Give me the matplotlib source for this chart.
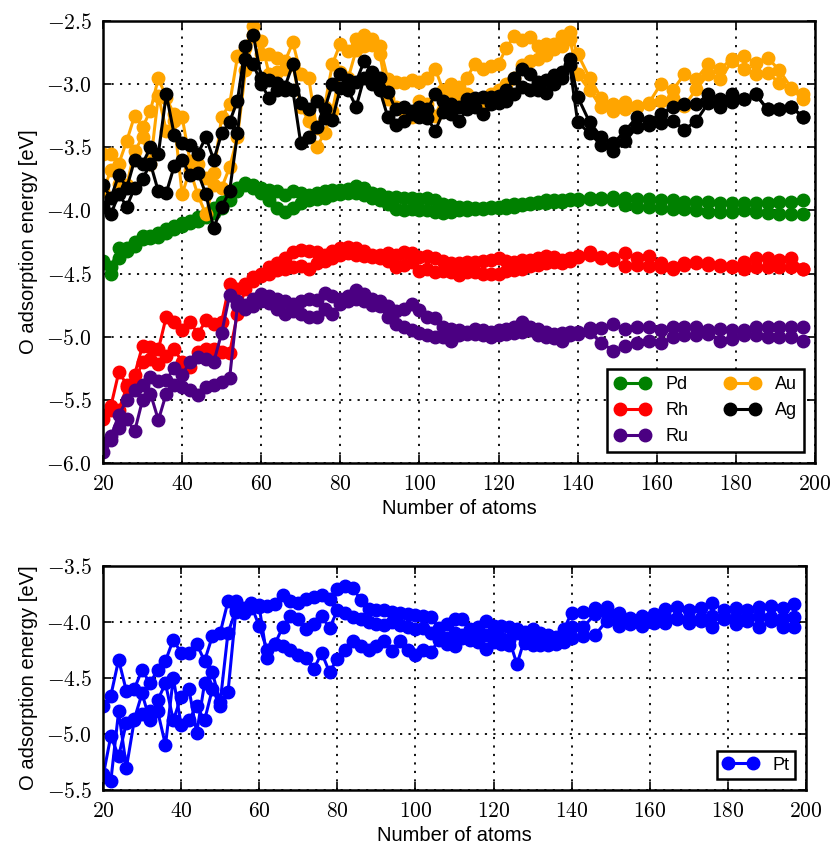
import matplotlib
matplotlib.use('Agg')
import matplotlib.pyplot as plt
from matplotlib.ticker import FuncFormatter, MultipleLocator

plt.rcParams['font.family'] = ['Liberation Sans', 'DejaVu Sans']
plt.rcParams['mathtext.fontset'] = 'cm'
plt.rcParams['font.size'] = 15

# cluster sizes: every 2nd size up to 138, then every 3rd
n_atoms = list(range(20, 140, 2)) + list(range(140, 200, 3))

pd_a = [-4.40, -4.45, -4.30, -4.32, -4.25, -4.20, -4.22, -4.18, -4.15, -4.12,
        -4.10, -4.08, -4.05, -4.03, -3.98, -3.93, -3.88, -3.82, -3.78, -3.80,
        -3.82, -3.84, -3.85, -3.88, -3.85, -3.86, -3.88, -3.86, -3.85, -3.84,
        -3.84, -3.83, -3.81, -3.82, -3.86, -3.87, -3.89, -3.89, -3.90, -3.90,
        -3.91, -3.90, -3.92, -3.95, -3.96, -3.97, -3.97, -3.98, -3.98, -3.97,
        -3.97, -3.96, -3.95, -3.95, -3.94, -3.93, -3.92, -3.92, -3.92, -3.91,
        -3.91, -3.90, -3.90, -3.89, -3.90, -3.91, -3.91, -3.92, -3.92, -3.93,
        -3.93, -3.93, -3.94, -3.94, -3.94, -3.94, -3.94, -3.93, -3.93, -3.92]
pd_b = [-4.42, -4.50, -4.38, -4.30, -4.28, -4.23, -4.20, -4.21, -4.18, -4.15,
        -4.12, -4.10, -4.08, -4.05, -4.02, -3.98, -3.92, -3.85, -3.80, -3.82,
        -3.86, -3.92, -3.98, -4.01, -3.98, -3.94, -3.92, -3.91, -3.90, -3.88,
        -3.87, -3.86, -3.86, -3.88, -3.90, -3.92, -3.95, -3.99, -4.00, -3.99,
        -4.00, -4.00, -4.01, -4.02, -4.01, -4.00, -4.00, -3.99, -3.99, -3.98,
        -3.98, -3.98, -3.97, -3.96, -3.95, -3.94, -3.94, -3.93, -3.93, -3.92,
        -3.92, -3.91, -3.91, -3.92, -3.96, -3.97, -3.97, -3.98, -3.99, -3.99,
        -4.00, -4.01, -4.01, -4.01, -4.00, -4.01, -4.02, -4.03, -4.03, -4.03]

rh_a = [-5.62, -5.55, -5.28, -5.38, -5.30, -5.07, -5.08, -5.10, -4.84, -4.88,
        -4.95, -4.88, -4.98, -4.87, -4.90, -4.88, -4.58, -4.62, -4.58, -4.53,
        -4.50, -4.45, -4.42, -4.38, -4.33, -4.31, -4.32, -4.33, -4.35, -4.32,
        -4.30, -4.29, -4.30, -4.32, -4.35, -4.35, -4.34, -4.35, -4.33, -4.34,
        -4.37, -4.36, -4.38, -4.40, -4.42, -4.42, -4.41, -4.41, -4.40, -4.39,
        -4.38, -4.40, -4.41, -4.39, -4.39, -4.38, -4.36, -4.37, -4.39, -4.38,
        -4.36, -4.33, -4.37, -4.38, -4.34, -4.38, -4.36, -4.42, -4.45, -4.42,
        -4.41, -4.42, -4.43, -4.44, -4.41, -4.38, -4.38, -4.39, -4.38, -4.46]
rh_b = [-5.65, -5.58, -5.58, -5.40, -5.36, -5.20, -5.18, -5.22, -5.15, -5.10,
        -5.20, -5.24, -5.12, -5.10, -5.10, -5.12, -5.13, -4.82, -4.62, -4.56,
        -4.52, -4.50, -4.47, -4.46, -4.45, -4.44, -4.46, -4.42, -4.40, -4.38,
        -4.35, -4.34, -4.35, -4.36, -4.37, -4.38, -4.40, -4.45, -4.43, -4.41,
        -4.48, -4.46, -4.49, -4.48, -4.49, -4.51, -4.49, -4.49, -4.50, -4.50,
        -4.50, -4.48, -4.47, -4.46, -4.44, -4.43, -4.42, -4.41, -4.42, -4.40,
        -4.37, -4.35, -4.38, -4.39, -4.44, -4.43, -4.44, -4.45, -4.46, -4.43,
        -4.42, -4.43, -4.44, -4.45, -4.46, -4.45, -4.45, -4.45, -4.45, -4.46]

ru_a = [-5.84, -5.79, -5.62, -5.50, -5.42, -5.38, -5.32, -5.35, -5.34, -5.25,
        -5.30, -5.20, -5.16, -5.18, -5.20, -4.97, -4.67, -4.72, -4.75, -4.70,
        -4.66, -4.68, -4.70, -4.72, -4.74, -4.72, -4.70, -4.71, -4.65, -4.68,
        -4.70, -4.68, -4.63, -4.66, -4.70, -4.72, -4.76, -4.80, -4.78, -4.74,
        -4.79, -4.84, -4.85, -4.92, -4.94, -4.95, -4.96, -4.94, -4.95, -4.96,
        -4.95, -4.94, -4.92, -4.88, -4.92, -4.94, -4.96, -4.98, -4.97, -4.96,
        -4.96, -4.93, -4.93, -4.90, -4.94, -4.92, -4.92, -4.95, -4.92, -4.92,
        -4.92, -4.95, -4.94, -4.95, -4.95, -4.92, -4.92, -4.92, -4.92, -4.92]
ru_b = [-5.91, -5.82, -5.72, -5.65, -5.75, -5.50, -5.45, -5.66, -5.45, -5.38,
        -5.40, -5.42, -5.46, -5.40, -5.38, -5.36, -5.33, -4.75, -4.78, -4.76,
        -4.72, -4.73, -4.78, -4.82, -4.80, -4.82, -4.84, -4.84, -4.78, -4.82,
        -4.74, -4.72, -4.70, -4.72, -4.75, -4.76, -4.84, -4.90, -4.92, -4.95,
        -4.97, -4.99, -5.00, -5.00, -5.03, -4.99, -4.98, -4.98, -4.99, -5.00,
        -4.99, -4.98, -4.97, -4.96, -4.95, -4.99, -5.00, -5.01, -5.03, -4.99,
        -4.98, -4.96, -5.05, -5.11, -5.07, -5.05, -5.03, -5.05, -5.00, -4.99,
        -4.99, -4.98, -5.03, -5.02, -4.99, -4.99, -5.00, -5.00, -5.00, -5.03]

au_a = [-3.55, -3.55, -3.63, -3.45, -3.25, -3.34, -3.21, -2.95, -3.11, -3.24,
        -3.26, -3.61, -3.63, -3.74, -3.70, -3.26, -3.16, -2.78, -2.71, -2.54,
        -2.76, -2.76, -2.79, -2.82, -2.67, -2.92, -2.95, -3.35, -3.18, -2.84,
        -2.68, -2.74, -2.64, -2.61, -2.64, -2.70, -2.96, -2.98, -2.99, -2.97,
        -2.98, -2.95, -2.88, -3.05, -3.00, -3.02, -2.95, -2.84, -2.88, -2.86,
        -2.84, -2.71, -2.62, -2.65, -2.63, -2.70, -2.68, -2.68, -2.62, -2.59,
        -2.76, -2.95, -3.11, -3.16, -3.14, -3.17, -3.15, -3.00, -3.05, -2.92,
        -2.96, -2.84, -2.88, -2.80, -2.78, -2.83, -2.79, -2.89, -3.03, -3.12]
au_b = [-3.85, -3.68, -3.79, -3.80, -3.53, -3.42, -3.63, -3.09, -3.37, -3.29,
        -3.87, -3.68, -3.88, -4.03, -3.80, -3.82, -3.66, -3.42, -2.89, -2.61,
        -2.66, -2.92, -2.90, -2.88, -2.84, -3.18, -3.29, -3.50, -3.39, -3.21,
        -2.90, -2.95, -2.73, -2.70, -2.69, -2.76, -3.12, -3.18, -3.21, -3.26,
        -3.13, -3.16, -3.25, -3.10, -3.08, -3.10, -3.08, -3.16, -3.18, -3.08,
        -3.05, -3.00, -2.95, -2.85, -2.82, -2.80, -2.77, -2.72, -2.70, -2.64,
        -2.92, -3.05, -3.18, -3.21, -3.20, -3.18, -3.16, -3.13, -3.11, -3.17,
        -3.04, -2.92, -2.96, -2.82, -2.88, -2.92, -2.91, -2.99, -3.04, -3.08]

ag_a = [-3.80, -3.90, -3.72, -3.82, -3.60, -3.63, -3.50, -3.55, -3.08, -3.40,
        -3.47, -3.48, -3.55, -3.42, -3.60, -3.39, -3.30, -3.13, -2.70, -2.61,
        -2.95, -2.97, -2.99, -3.02, -2.84, -3.15, -3.20, -3.13, -3.20, -3.00,
        -2.92, -2.97, -2.98, -2.82, -2.90, -2.95, -3.06, -3.20, -3.18, -3.21,
        -3.18, -3.20, -3.08, -3.13, -3.16, -3.18, -3.12, -3.11, -3.10, -3.10,
        -3.09, -3.05, -2.95, -2.88, -2.92, -2.98, -2.97, -2.93, -2.90, -2.80,
        -3.10, -3.30, -3.42, -3.47, -3.37, -3.26, -3.29, -3.24, -3.18, -3.16,
        -3.16, -3.08, -3.12, -3.08, -3.12, -3.08, -3.20, -3.20, -3.18, -3.26]
ag_b = [-3.97, -4.03, -3.87, -3.97, -3.82, -3.75, -3.63, -3.85, -3.86, -3.65,
        -3.60, -3.72, -3.70, -3.87, -4.14, -3.97, -3.85, -3.39, -2.80, -2.84,
        -3.00, -3.11, -3.05, -3.05, -3.05, -3.47, -3.42, -3.34, -3.27, -3.28,
        -3.03, -3.05, -3.18, -2.95, -3.00, -3.05, -3.26, -3.32, -3.29, -3.24,
        -3.26, -3.27, -3.37, -3.22, -3.24, -3.29, -3.20, -3.18, -3.24, -3.16,
        -3.15, -3.13, -3.08, -3.02, -3.05, -3.05, -3.07, -3.00, -2.95, -2.85,
        -3.30, -3.39, -3.48, -3.53, -3.45, -3.34, -3.32, -3.31, -3.29, -3.36,
        -3.29, -3.15, -3.18, -3.14, -3.12, -3.08, -3.20, -3.20, -3.18, -3.26]

pt_a = [-4.75, -4.66, -4.34, -4.62, -4.60, -4.43, -4.55, -4.43, -4.35, -4.16,
        -4.28, -4.28, -4.20, -4.35, -4.13, -4.10, -3.82, -3.82, -3.90, -3.83,
        -3.85, -3.86, -3.84, -3.76, -3.82, -3.83, -3.80, -3.78, -3.76, -3.80,
        -3.71, -3.68, -3.70, -3.81, -3.89, -3.90, -3.90, -3.91, -3.92, -3.93,
        -3.94, -3.95, -3.96, -4.06, -4.02, -3.98, -3.98, -4.07, -4.05, -3.99,
        -4.04, -4.04, -4.05, -4.07, -4.09, -4.07, -4.10, -4.12, -4.14, -4.07,
        -3.92, -3.91, -3.88, -3.87, -3.92, -3.97, -3.95, -3.93, -3.89, -3.87,
        -3.90, -3.88, -3.83, -3.90, -3.88, -3.90, -3.87, -3.86, -3.88, -3.84]
pt_b = [-5.38, -5.02, -5.20, -4.90, -4.87, -4.64, -4.88, -4.70, -4.55, -4.88,
        -4.67, -4.60, -4.99, -4.55, -4.45, -4.72, -4.10, -3.90, -3.88, -3.86,
        -4.04, -4.25, -4.20, -4.05, -3.95, -3.98, -4.07, -4.02, -3.95, -4.06,
        -3.90, -3.92, -3.96, -3.98, -4.00, -4.02, -4.03, -4.00, -4.03, -4.05,
        -4.07, -4.06, -4.10, -4.13, -4.15, -4.10, -4.12, -4.14, -4.15, -4.12,
        -4.14, -4.15, -4.16, -4.38, -4.15, -4.16, -4.18, -4.19, -4.19, -4.17,
        -4.05, -4.05, -3.93, -3.92, -3.97, -3.99, -3.99, -3.99, -3.96, -3.97,
        -3.98, -3.97, -3.95, -3.96, -3.96, -3.97, -3.95, -3.96, -3.97, -3.96]
pt_c = [-5.36, -5.42, -4.80, -5.30, -4.88, -4.82, -4.80, -4.80, -5.10, -4.50,
        -4.92, -4.88, -4.75, -4.88, -4.60, -4.75, -4.63, -3.91, -3.92, -3.88,
        -3.87, -4.32, -4.20, -4.22, -4.25, -4.30, -4.32, -4.42, -4.28, -4.45,
        -4.33, -4.25, -4.17, -4.22, -4.25, -4.22, -4.17, -4.26, -4.17, -4.25,
        -4.30, -4.25, -4.27, -4.16, -4.20, -4.22, -4.15, -4.16, -4.18, -4.24,
        -4.18, -4.20, -4.21, -4.10, -4.19, -4.21, -4.21, -4.21, -4.20, -4.18,
        -4.15, -4.13, -4.12, -3.99, -4.04, -4.02, -4.04, -4.01, -4.01, -3.98,
        -4.01, -3.99, -4.05, -3.98, -4.02, -3.99, -4.05, -3.99, -4.05, -4.05]


def draw_metal(ax, branches, color, label):
    for i, vals in enumerate(branches):
        ax.plot(n_atoms, vals, '-o', color=color, mec=color, ms=9, lw=2.2,
                label=label if i == 0 else None)


def style_axes(ax, ylim, ystep):
    ax.set_xlim(20, 200)
    ax.set_ylim(*ylim)
    ax.xaxis.set_major_locator(MultipleLocator(20))
    ax.yaxis.set_major_locator(MultipleLocator(ystep))
    ax.xaxis.set_major_formatter(FuncFormatter(lambda v, p: r'$%d$' % v))
    ax.yaxis.set_major_formatter(FuncFormatter(lambda v, p: r'$%.1f$' % v))
    ax.tick_params(direction='in', top=True, right=True, length=6, width=1.2,
                   pad=8, labelsize=15.5)
    ax.grid(True, color='k', linestyle=(0, (1.2, 3.5)), linewidth=1.3)
    for s in ax.spines.values():
        s.set_linewidth(1.8)
    ax.set_xlabel('Number of atoms', fontsize=14.5, labelpad=3)
    ax.set_ylabel('O adsorption energy [eV]', fontsize=14.5, labelpad=6)


fig = plt.figure(figsize=(8.32, 8.49), dpi=100)
ax1 = fig.add_axes([103 / 832, 1 - 463 / 849, 712 / 832, 442 / 849])
ax2 = fig.add_axes([103 / 832, 1 - 790 / 849, 703 / 832, 224.5 / 849])

draw_metal(ax1, [pd_a, pd_b], 'green', 'Pd')
draw_metal(ax1, [rh_a, rh_b], 'red', 'Rh')
draw_metal(ax1, [ru_a, ru_b], 'indigo', 'Ru')
draw_metal(ax1, [au_a, au_b], 'orange', 'Au')
draw_metal(ax1, [ag_a, ag_b], 'black', 'Ag')
style_axes(ax1, (-6.0, -2.5), 0.5)
leg1 = ax1.legend(loc='lower right', ncol=2, numpoints=2, fontsize=13,
                  fancybox=False, edgecolor='k', framealpha=1,
                  borderaxespad=0.6, columnspacing=2.0)
leg1.get_frame().set_linewidth(1.8)

draw_metal(ax2, [pt_a, pt_b, pt_c], 'blue', 'Pt')
style_axes(ax2, (-5.5, -3.5), 0.5)
leg2 = ax2.legend(loc='lower right', numpoints=2, fontsize=13,
                  fancybox=False, edgecolor='k', framealpha=1,
                  borderaxespad=0.6, borderpad=0.3)
leg2.get_frame().set_linewidth(1.8)

fig.savefig('out.png', dpi=100)
